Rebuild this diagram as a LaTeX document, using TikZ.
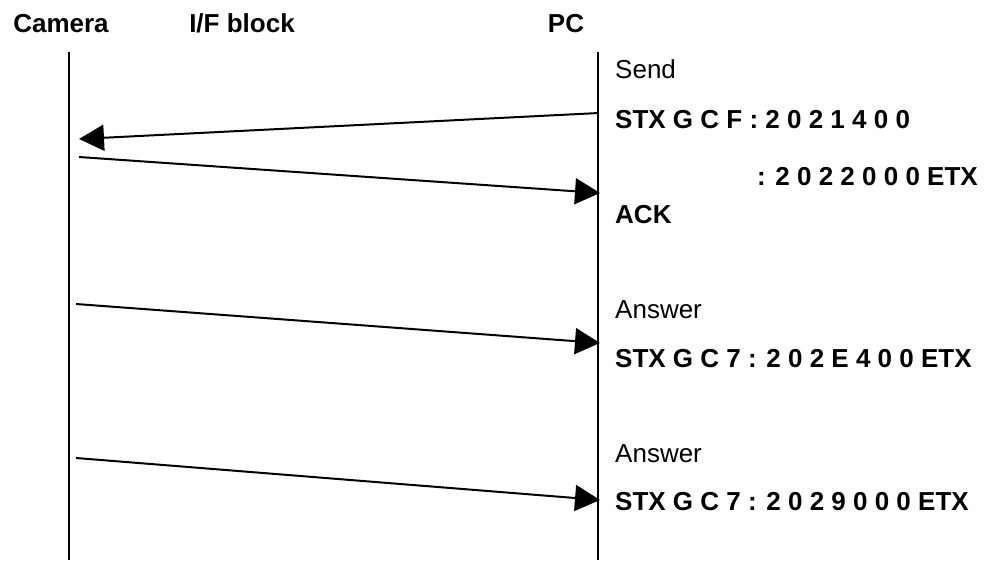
\documentclass[tikz,border=0pt]{standalone}
\usepackage{fontspec}
\setmainfont{Liberation Sans}
\usetikzlibrary{arrows.meta}
\begin{document}
\begin{tikzpicture}[x=1pt,y=-1pt,
  lifeline/.style={line width=1.4pt},
  msg/.style={line width=2pt,-{Triangle[length=25pt,width=26pt]}},
  head/.style={font=\fontsize{26}{31}\selectfont\bfseries,inner sep=0pt,anchor=base},
  lbl/.style={font=\fontsize{26}{31}\selectfont,inner sep=0pt,anchor=base west},
  blbl/.style={lbl,font=\fontsize{26}{31}\selectfont\bfseries}]
\useasboundingbox (0,0) rectangle (988,560);
% headers
\node[head] (hcam) at (61,32) {Camera};
\node[head] (hif) at (242,32) {I/F block};
\node[head] (hpc) at (566,32) {PC};
% lifelines
\coordinate (camtop) at (69,52);
\coordinate (cambot) at (69,560);
\coordinate (pctop) at (598,52);
\coordinate (pcbot) at (598,560);
\draw[lifeline] (camtop) -- (cambot);
\draw[lifeline] (pctop) -- (pcbot);
% message end points
\coordinate (m1s) at (599,113);
\coordinate (m1e) at (79,139);
\coordinate (m2s) at (79,157);
\coordinate (m2e) at (600,193);
\coordinate (m3s) at (76,304);
\coordinate (m3e) at (600,343);
\coordinate (m4s) at (76,458);
\coordinate (m4e) at (600,500);
\draw[msg] (m1s) -- (m1e);
\draw[msg] (m2s) -- (m2e);
\draw[msg] (m3s) -- (m3e);
\draw[msg] (m4s) -- (m4e);
% labels
\node[lbl] (send) at (615,78) {Send};
\node[blbl] (cmd1) at (615,128) {STX G C F : 2 0 2 1 4 0 0};
\node[blbl,anchor=base east] (cmd2) at (978,185) {: 2 0 2 2 0 0 0 ETX};
\node[blbl] (ack) at (615,223) {ACK};
\node[lbl] (ans1) at (615,318) {Answer};
\node[blbl] (rsp1) at (615,367) {STX G C 7 : 2 0 2 E 4 0 0 ETX};
\node[lbl] (ans2) at (615,462) {Answer};
\node[blbl] (rsp2) at (615,510) {STX G C 7 : 2 0 2 9 0 0 0 ETX};
\end{tikzpicture}
\end{document}
